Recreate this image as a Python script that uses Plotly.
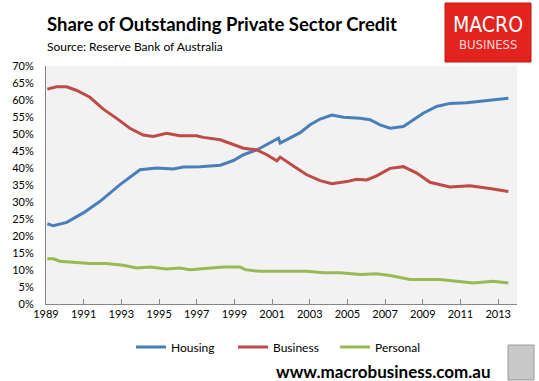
import plotly.graph_objects as go

# ---- data (decimal years, % share) ----
housing_years = [1989.07, 1989.39, 1990.10, 1990.98, 1991.87, 1992.93, 1993.99, 1994.87, 1995.76, 1996.29,
                 1997.18, 1998.25, 1998.95, 1999.48, 2000.19, 2000.90, 2001.34, 2001.43, 2001.96, 2002.49,
                 2003.02, 2003.55, 2004.17, 2004.79, 2005.67, 2006.20, 2006.73, 2007.26, 2007.97, 2008.50,
                 2009.02, 2009.73, 2010.44, 2011.33, 2012.21, 2012.92, 2013.54]
housing = [23.6, 23.0, 24.0, 26.8, 30.2, 35.1, 39.5, 40.0, 39.7, 40.3,
           40.4, 40.8, 42.2, 43.9, 45.3, 47.5, 48.8, 47.3, 48.8, 50.4,
           52.7, 54.4, 55.6, 54.9, 54.6, 54.2, 52.7, 51.7, 52.2, 54.2,
           56.1, 58.1, 59.0, 59.2, 59.8, 60.2, 60.5]

business_years = [1989.07, 1989.56, 1990.10, 1990.63, 1991.33, 1992.04, 1992.75, 1993.45, 1994.16, 1994.69,
                  1995.40, 1996.10, 1996.99, 1997.35, 1998.25, 1998.95, 1999.48, 2000.19, 2000.72, 2001.25,
                  2001.43, 2002.13, 2002.84, 2003.55, 2004.17, 2004.96, 2005.49, 2006.02, 2006.55, 2007.26,
                  2007.97, 2008.68, 2009.38, 2010.44, 2011.50, 2012.56, 2013.54]
business = [63.2, 63.9, 63.9, 62.8, 60.8, 57.3, 54.6, 51.7, 49.7, 49.3,
            50.2, 49.5, 49.5, 49.0, 48.3, 46.8, 45.8, 45.3, 43.9, 42.1,
            43.2, 40.6, 38.0, 36.3, 35.4, 36.0, 36.7, 36.5, 37.7, 39.9,
            40.4, 38.5, 35.8, 34.4, 34.8, 34.0, 33.1]

personal_years = [1989.07, 1989.39, 1989.74, 1990.45, 1991.33, 1992.22, 1993.10, 1993.81, 1994.52, 1995.40,
                  1996.10, 1996.65, 1997.71, 1998.42, 1999.30, 1999.57, 2000.36, 2001.96, 2002.84, 2003.73,
                  2004.61, 2005.67, 2006.55, 2007.26, 2008.32, 2009.91, 2010.97, 2011.68, 2012.74, 2013.54]
personal = [13.3, 13.3, 12.6, 12.3, 11.9, 11.9, 11.4, 10.6, 10.9, 10.3,
            10.6, 10.1, 10.6, 10.9, 10.9, 10.1, 9.6, 9.6, 9.6, 9.2,
            9.2, 8.7, 8.9, 8.4, 7.2, 7.2, 6.7, 6.2, 6.7, 6.2]

year_ticks = list(range(1989, 2014, 2))
pct_ticks = list(range(0, 75, 5))

title_text = "Share of Outstanding Private Sector Credit"
subtitle_text = "Source: Reserve Bank of Australia"
site_text = "www.macrobusiness.com.au"

W, H = 539, 381
ML, MR, MT, MB = 46, 22, 66, 77

def px_x(x):
    return (x - ML) / (W - ML - MR)

def px_y(y):
    return (H - MB - y) / (H - MT - MB)

fig = go.Figure()
fig.add_trace(go.Scatter(x=housing_years, y=housing, name="Housing", mode="lines",
                         line=dict(color="#4A7EBB", width=3)))
fig.add_trace(go.Scatter(x=business_years, y=business, name="Business", mode="lines",
                         line=dict(color="#BE4B48", width=3)))
fig.add_trace(go.Scatter(x=personal_years, y=personal, name="Personal", mode="lines",
                         line=dict(color="#98B954", width=3)))

fig.update_layout(
    width=W, height=H,
    margin=dict(l=ML, r=MR, t=MT, b=MB, pad=0),
    paper_bgcolor="white", plot_bgcolor="#F2F2F2",
    font=dict(family="Lato, Arial, sans-serif", size=11, color="#000"),
    showlegend=True,
    legend=dict(orientation="h", x=px_x(284), xanchor="center", y=px_y(347), yanchor="middle",
                font=dict(size=12), itemwidth=30, entrywidth=57,
                bgcolor="rgba(0,0,0,0)", tracegroupgap=0),
    xaxis=dict(range=[1989, 2014], tickvals=year_ticks, ticktext=[str(y) for y in year_ticks],
               showgrid=False, zeroline=False, showline=True, linecolor="#868686", linewidth=1,
               ticks="inside", ticklen=5, tickcolor="#868686", tickfont=dict(size=11)),
    yaxis=dict(range=[0, 70], tickvals=pct_ticks, ticktext=[f"{v}%" for v in pct_ticks],
               showgrid=False, zeroline=False, showline=True, linecolor="#868686", linewidth=1,
               ticks="", ticklabelstandoff=9, tickfont=dict(size=11)),
)

# Title & subtitle
fig.add_annotation(text="<b>" + title_text + "</b>", xref="paper", yref="paper",
                   x=px_x(45), y=px_y(24), xanchor="left", yanchor="middle", showarrow=False,
                   font=dict(size=18.5, family="Lato, Arial, sans-serif", color="#000"))
fig.add_annotation(text=subtitle_text, xref="paper", yref="paper",
                   x=px_x(45), y=px_y(46), xanchor="left", yanchor="middle", showarrow=False,
                   font=dict(size=12, family="Lato, Arial, sans-serif", color="#000"))

# Logo box
fig.add_shape(type="rect", xref="paper", yref="paper", x0=px_x(445), x1=px_x(531), y0=px_y(62), y1=px_y(3),
              fillcolor="#E2231E", line=dict(color="#C81812", width=1), layer="above")
fig.add_annotation(text="MACRO", xref="paper", yref="paper", x=px_x(488), y=px_y(25),
                   xanchor="center", yanchor="middle", showarrow=False,
                   font=dict(size=21, family="Liberation Sans Narrow, DejaVu Sans Condensed, Roboto, Arial",
                             color="white"))
fig.add_annotation(text="BUSINESS", xref="paper", yref="paper", x=px_x(488), y=px_y(44),
                   xanchor="center", yanchor="middle", showarrow=False,
                   font=dict(size=13, family="Liberation Sans Narrow, DejaVu Sans Condensed, Roboto, Arial",
                             color="#FBD9D8"))

# Website
fig.add_annotation(text="<b>" + site_text + "</b>", xref="paper", yref="paper",
                   x=px_x(493), y=px_y(371), xanchor="right", yanchor="middle", showarrow=False,
                   font=dict(size=17, family="Lato, Arial, sans-serif", color="#000"))
# small emblem box
fig.add_shape(type="rect", xref="paper", yref="paper", x0=px_x(508), x1=px_x(534), y0=px_y(380), y1=px_y(345),
              fillcolor="#C8C8C8", line=dict(color="#9A9A9A", width=1), layer="above")

fig.write_html("out.html", config={"displayModeBar": False},
               post_script="document.body.style.margin='0';")
